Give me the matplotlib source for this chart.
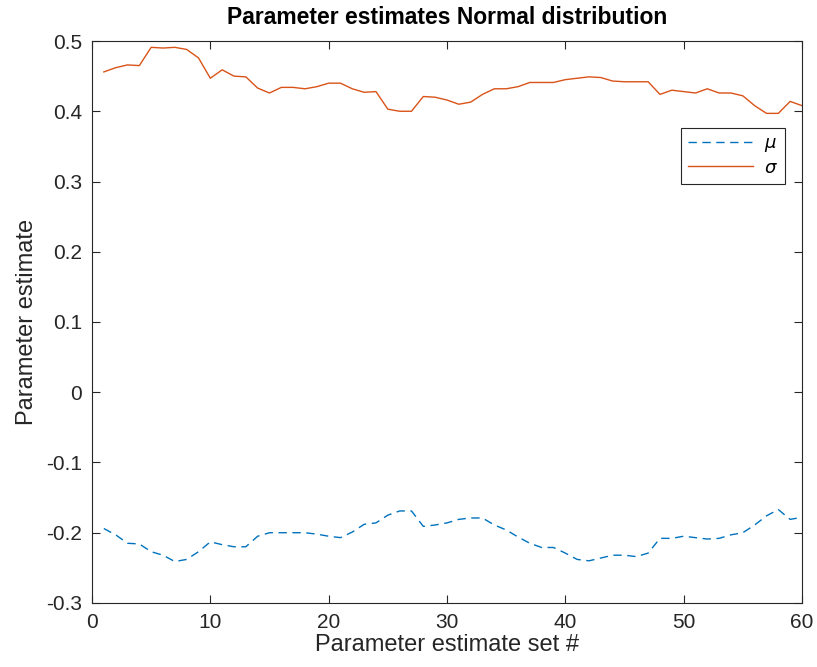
import numpy as np
import matplotlib
matplotlib.use("Agg")
import matplotlib.pyplot as plt

plt.rcParams["font.family"] = ["Liberation Sans", "DejaVu Sans"]

set_no = np.arange(1, 61)

mu = [-0.194, -0.203, -0.215, -0.216, -0.227, -0.232, -0.241, -0.238, -0.227, -0.213,
      -0.217, -0.220, -0.220, -0.205, -0.200, -0.200, -0.200, -0.200, -0.202, -0.205,
      -0.207, -0.199, -0.188, -0.186, -0.175, -0.169, -0.169, -0.191, -0.189, -0.186,
      -0.181, -0.179, -0.179, -0.189, -0.196, -0.206, -0.215, -0.221, -0.221, -0.229,
      -0.238, -0.240, -0.236, -0.232, -0.232, -0.234, -0.229, -0.208, -0.208, -0.205,
      -0.207, -0.209, -0.208, -0.203, -0.200, -0.189, -0.176, -0.167, -0.181, -0.178]

sigma = [0.456, 0.462, 0.466, 0.465, 0.491, 0.490, 0.491, 0.488, 0.476, 0.447,
         0.459, 0.450, 0.449, 0.433, 0.426, 0.434, 0.434, 0.432, 0.435, 0.440,
         0.440, 0.432, 0.427, 0.428, 0.403, 0.400, 0.400, 0.421, 0.420, 0.416,
         0.410, 0.413, 0.424, 0.432, 0.432, 0.435, 0.441, 0.441, 0.441, 0.445,
         0.447, 0.449, 0.448, 0.443, 0.442, 0.442, 0.442, 0.424, 0.430, 0.428,
         0.426, 0.432, 0.426, 0.426, 0.422, 0.408, 0.397, 0.397, 0.414, 0.408]

fig = plt.figure(figsize=(8.17, 6.67), dpi=100)
ax = fig.add_axes([0.1126, 0.096, 0.869, 0.8425])

ax.plot(set_no, mu, color="#0072BD", linewidth=1.0, linestyle=(0, (6, 4)), label=r"$\mu$")
ax.plot(set_no, sigma, color="#D95319", linewidth=1.0, label=r"$\sigma$")

ax.set_xlim(0, 60)
ax.set_ylim(-0.3, 0.5)
ax.set_xticks(np.arange(0, 61, 10))
ax.set_yticks(np.round(np.arange(-0.3, 0.51, 0.1), 1))
ax.set_yticklabels(["-0.3", "-0.2", "-0.1", "0", "0.1", "0.2", "0.3", "0.4", "0.5"])
ax.tick_params(direction="in", top=True, right=True, labelsize=15, length=6,
               colors="#262626", pad=7)
for s in ax.spines.values():
    s.set_color("#262626")
    s.set_linewidth(0.8)

ax.set_xlabel("Parameter estimate set #", fontsize=17, color="#262626", labelpad=2)
ax.set_ylabel("Parameter estimate", fontsize=17, color="#262626", labelpad=6)
ax.set_title("Parameter estimates Normal distribution", fontsize=16.5, fontweight="bold", pad=12)

leg = ax.legend(loc="upper right", bbox_to_anchor=(0.976, 0.845), fancybox=False,
                edgecolor="#262626", framealpha=1, fontsize=13, handlelength=3.6,
                handletextpad=0.6, borderaxespad=0, borderpad=0.4, labelspacing=0.3)
leg.get_frame().set_linewidth(0.8)

plt.savefig("out.png", dpi=100)
